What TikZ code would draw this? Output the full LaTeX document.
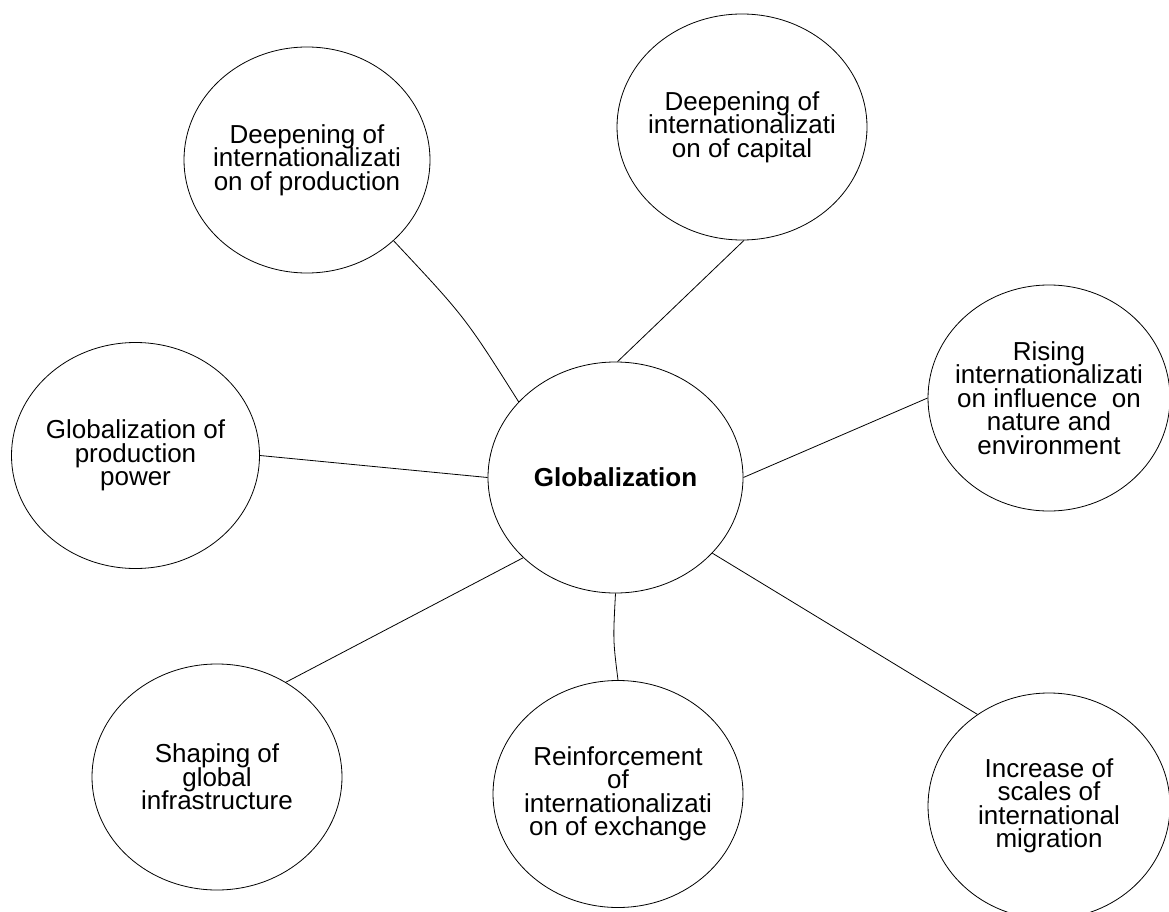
\documentclass[tikz,border=0pt]{standalone}
\usepackage{fontspec}
\setmainfont{Liberation Sans}
\usetikzlibrary{shapes.geometric}
\newcommand\bubblefont{\fontsize{26}{23.5}\selectfont\lineskiplimit -100pt\relax\lineskip 0pt\relax}
\begin{document}
\begin{tikzpicture}[x=1pt,y=-1pt,
  bubble/.style={draw=black, line width=0.8pt, ellipse, inner sep=0pt, fill=white,
                 minimum width=246pt, minimum height=226pt},
  lbl/.style={font=\bubblefont, align=center, inner sep=0pt},
  title/.style={font=\fontsize{26}{30}\selectfont\bfseries, inner sep=0pt},
  link/.style={draw=black, line width=0.8pt}]
\useasboundingbox (0,0) rectangle (1169,912);
\fill[white] (0,0) rectangle (1169,912);
\clip (0,0) rectangle (1169,912);

% ellipses
\node[bubble] (tl) at (307,160) {};
\node[bubble, minimum width=250pt] (tr) at (742,127) {};
\node[bubble, minimum width=242pt] (r) at (1049,398) {};
\node[bubble, minimum width=248pt] (l) at (135.5,455.5) {};
\node[bubble, minimum width=255pt, minimum height=231pt] (c) at (615.5,477.5) {};
\node[bubble, minimum width=250pt] (bl) at (217,777) {};
\node[bubble, minimum width=250pt, minimum height=227pt] (bm) at (618,794) {};
\node[bubble, minimum width=242pt] (br) at (1049,806) {};

% connectors
\draw[link] (tl.-43.7) .. controls (465,317) .. (c.142.2);
\draw[link] (tr.-89.5) -- (c.89.8);
\draw[link] (c.0) -- (r.180);
\draw[link] (l.0) -- (c.180);
\draw[link] (c.-139) -- (bl.54.5);
\draw[link] (c.-90) .. controls (613,640) .. (bm.90);
\draw[link] (c.-38.4) -- (br.128);

% texts
\node[lbl] (tltext) at (tl.center) {Deepening of\\internationalizati\\on of production};
\node[lbl] (trtext) at (tr.center) {Deepening of\\internationalizati\\on of capital};
\node[lbl] (rtext) at (r.center) {Rising\\internationalizati\\on influence\ \ on\\nature and\\environment};
\node[lbl] (ltext) at (l.center) {Globalization of\\production\\power};
\node[title] (ctext) at (c.center) {Globalization};
\node[lbl] (bltext) at (bl.center) {Shaping of\\global\\infrastructure};
\node[lbl] (bmtext) at (bm.center) {Reinforcement\\of\\internationalizati\\on of exchange};
\node[lbl] (brtext) at (br.center) {Increase of\\scales of\\international\\migration};
\end{tikzpicture}
\end{document}
